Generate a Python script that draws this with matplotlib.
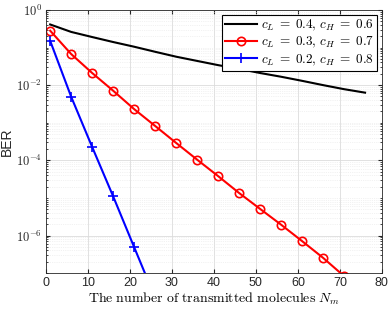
import matplotlib
matplotlib.use("Agg")
import matplotlib.pyplot as plt
import numpy as np
from matplotlib.ticker import FixedLocator, LogLocator, FuncFormatter, NullFormatter

plt.rcParams['font.family'] = ['Liberation Sans', 'DejaVu Sans']
plt.rcParams['mathtext.fontset'] = 'cm'

# data
n_black = [1, 6, 11, 16, 21, 26, 31, 36, 41, 46, 51, 56, 61, 66, 71, 76]
ber_black = [0.41, 0.26, 0.19, 0.14, 0.105, 0.077, 0.057, 0.044, 0.034, 0.027,
             0.021, 0.0167, 0.013, 0.010, 0.0078, 0.0063]

n_red = [1, 6, 11, 16, 21, 26, 31, 36, 41, 46, 51, 56, 61, 66, 71]
ber_red = [0.28, 0.067, 0.021, 0.0071, 0.0023, 8.2e-4, 2.9e-4, 1.04e-4, 3.8e-5,
           1.35e-5, 5.1e-6, 1.94e-6, 7.1e-7, 2.55e-7, 8.3e-8]

n_blue = [1, 6, 11, 16, 21, 26]
ber_blue = [0.15, 0.0049, 2.26e-4, 1.1e-5, 4.9e-7, 2.2e-8]

labels = [r'$c_L\;=\;0.4,\,c_H\;=\;0.6$', r'$c_L\;=\;0.3,\,c_H\;=\;0.7$',
          r'$c_L\;=\;0.2,\,c_H\;=\;0.8$']

fig = plt.figure(figsize=(3.91, 3.10), dpi=100)
ax = fig.add_axes([0.1176, 0.119, 0.859, 0.849])

ax.semilogy(n_black, ber_black, '-', color='black', lw=1.5, label=labels[0])
ax.semilogy(n_red, ber_red, '-o', color='red', lw=1.5, ms=6, mfc='none', mew=1.2, label=labels[1])
ax.semilogy(n_blue, ber_blue, '-+', color='blue', lw=1.5, ms=7, mew=1.2, label=labels[2])

ax.set_xlim(0, 80)
ax.set_ylim(1e-7, 1)
ax.set_xticks(np.arange(0, 81, 10))
ax.yaxis.set_major_locator(FixedLocator([1e-6, 1e-4, 1e-2, 1e0]))
ax.yaxis.set_minor_locator(LogLocator(base=10, subs=np.arange(1, 10), numticks=20))
ax.yaxis.set_minor_formatter(NullFormatter())
ax.yaxis.set_major_formatter(FuncFormatter(lambda v, p: r'$\mathsf{10^{%d}}$' % round(np.log10(v))))

ax.tick_params(which='both', direction='in', top=True, right=True, labelsize=9, colors='#262626')
ax.tick_params(which='major', length=3, pad=3)
ax.tick_params(which='minor', length=1.5)
ax.grid(True, which='major', color='#dcdcdc', lw=0.6)
ax.grid(True, which='minor', color='#e6e6e6', lw=0.5, ls=':')
for s in ax.spines.values():
    s.set_color('#262626')
    s.set_linewidth(0.6)

ax.set_xlabel(r'$\mathrm{The\ number\ of\ transmitted\ molecules}\ N_m$', fontsize=10, labelpad=1)
ax.set_ylabel('BER', fontsize=10, color='#262626')
ax.yaxis.set_label_coords(-0.095, 0.5)

leg = ax.legend(loc='upper right', fontsize=9.5, fancybox=False, framealpha=1,
                edgecolor='black', borderpad=0.25, labelspacing=0.15, handlelength=2.4,
                handletextpad=0.3, borderaxespad=0.35)
leg.get_frame().set_linewidth(0.8)

fig.savefig('out.png', dpi=100)
